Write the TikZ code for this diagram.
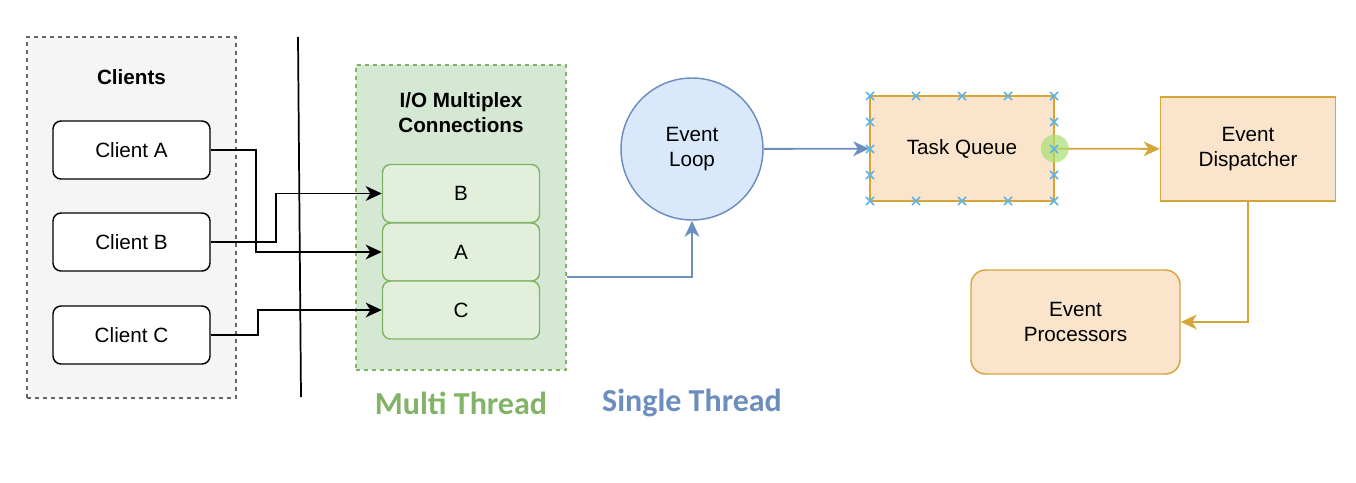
\documentclass[tikz,border=0pt]{standalone}
\usepackage{fontspec}
\setmainfont{Liberation Sans}
\newfontfamily\threadfont{Carlito}
\usepackage{xcolor}
\usetikzlibrary{arrows.meta}

\definecolor{grayfill}{HTML}{F5F5F5}
\definecolor{graydash}{HTML}{666666}
\definecolor{greenfill}{HTML}{D5E8D4}
\definecolor{greeninner}{HTML}{E1EFDB}
\definecolor{greenline}{HTML}{82B366}
\definecolor{bluefill}{HTML}{DAE8FC}
\definecolor{blueline}{HTML}{6C8EBF}
\definecolor{orangefill}{HTML}{FAE5CC}
\definecolor{orangeline}{HTML}{D6A53A}
\definecolor{selblue}{HTML}{5AB4EA}
\definecolor{selgreen}{HTML}{A8E070}

\begin{document}
\begin{tikzpicture}[x=0.75pt, y=-0.75pt,
  every node/.style={font=\fontsize{15.5}{18.75}\selectfont, align=center, inner sep=0pt},
  group/.style={rectangle, dashed, line width=1.1pt},
  conn/.style={rectangle, rounded corners=6pt, draw=greenline, fill=greeninner, line width=1.1pt,
    minimum width=117.75pt, minimum height=43.5pt},
  client/.style={rectangle, rounded corners=6pt, draw, fill=white, line width=1.1pt,
    minimum width=117.75pt, minimum height=43.5pt},
  task/.style={rectangle, draw=orangeline, fill=orangefill, line width=1.1pt},
  link/.style={line width=1.4pt, -{Stealth[length=12pt, width=11pt, inset=3.5pt]}},
  selmark/.style={draw=selblue, line width=1.1pt}]
  \useasboundingbox (0,0) rectangle (1356,482);

  % left side: clients
  \node[group, draw=graydash, fill=grayfill, minimum width=156.75pt, minimum height=270.75pt] (clients) at (131.5,217.5) {};
  \node[font=\fontsize{15.5}{18.75}\selectfont\bfseries] (clientstitle) at (131.5,77) {Clients};
  \node[client] (ca) at (131.5,150) {Client A};
  \node[client] (cb) at (131.5,242) {Client B};
  \node[client] (cc) at (131.5,335) {Client C};

  \coordinate (sep1) at (298,37);
  \coordinate (sep2) at (301,397);
  \draw[line width=1.3pt] (sep1) -- (sep2);

  % multiplexer
  \node[group, draw=greenline, fill=greenfill, minimum width=157.5pt, minimum height=228.75pt] (io) at (461,217.5) {};
  \node[font=\fontsize{15.5}{18.75}\selectfont\bfseries] (iotitle) at (461,112.5) {I/O Multiplex\\Connections};
  \node[conn] (mb) at (461,193.5) {B};
  \node[conn] (ma) at (461,252) {A};
  \node[conn] (mc) at (461,310) {C};

  \draw[link] (ca.east) -- ++(45,0) |- (ma.west);
  \draw[link] (cb.east) -- ++(65,0) |- (mb.west);
  \draw[link] (cc.east) -- ++(47,0) |- (mc.west);

  % event side
  \node[circle, draw=blueline, fill=bluefill, line width=1.1pt, minimum size=106.5pt] (loop) at (692,149) {Event\\Loop};
  \node[task, minimum width=138pt, minimum height=78.75pt] (tq) at (962,148.5) {Task Queue};
  \node[task, minimum width=131.25pt, minimum height=78pt] (disp) at (1248,149) {Event\\Dispatcher};
  \node[task, rounded corners=11pt, minimum width=156.75pt, minimum height=78pt] (proc) at (1075.5,322) {Event\\Processors};

  \draw[link, blueline] ([yshift=-44.6pt]io.east) -| (loop.south);
  \draw[link, blueline] (loop) -- (tq);
  \draw[link, orangeline] (tq) -- (disp);
  \draw[link, orangeline] (disp.south) |- (proc.east);

  % selection handles
  \fill[selgreen, opacity=0.7] (tq.east) circle (10.5pt);
  \foreach \x in {870,916,962,1008,1054}
    \path[selmark] (\x,96) +(-4,-4) -- +(4,4) +(-4,4) -- +(4,-4)
                   (\x,201) +(-4,-4) -- +(4,4) +(-4,4) -- +(4,-4);
  \foreach \y in {122,149,175}
    \path[selmark] (870,\y) +(-4,-4) -- +(4,4) +(-4,4) -- +(4,-4)
                   (1054,\y) +(-4,-4) -- +(4,4) +(-4,4) -- +(4,-4);

  \node[font=\fontsize{24}{28}\selectfont\threadfont\bfseries, text=greenline] (multi) at (461,403) {Multi Thread};
  \node[font=\fontsize{24}{28}\selectfont\threadfont\bfseries, text=blueline] (single) at (692,403) {Single Thread};
\end{tikzpicture}
\end{document}
